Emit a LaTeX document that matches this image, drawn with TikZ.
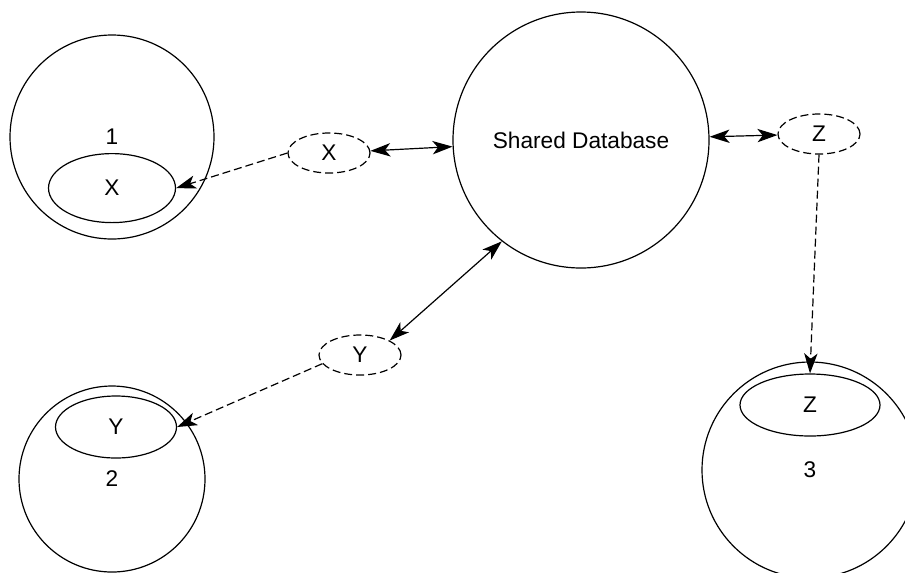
\documentclass[tikz,border=0pt]{standalone}
\usepackage{fontspec}
\setmainfont{Liberation Sans}
\usetikzlibrary{arrows.meta,positioning,shapes.geometric}

\begin{document}
\begin{tikzpicture}[
    x=0.75pt, y=-0.75pt,
    font=\fontsize{17}{20}\selectfont,
    line width=0.9pt,
    site/.style={draw, circle, inner sep=0pt, align=center},
    part/.style={draw, ellipse, inner sep=0pt},
    msg/.style={draw, ellipse, dash pattern=on 6pt off 3pt, inner sep=0pt, minimum width=61.5pt, minimum height=30pt},
    store/.style={draw, circle, inner sep=0pt, minimum size=192pt},
    tip/.style={Stealth[length=15pt, width=10pt, inset=4pt]},
    line/.style={{Stealth[length=15pt, width=10pt, inset=4pt]}-{Stealth[length=15pt, width=10pt, inset=4pt]}},
    flow/.style={-{Stealth[length=15pt, width=10pt, inset=4pt]}, dash pattern=on 6pt off 3pt}
]
    \useasboundingbox (0,0) rectangle (905,572);

    \node[store] (db) at (581,140) {Shared Database};

    \node[site, minimum size=153pt] (c1) at (112,137) {1};
    \node[site, minimum size=139.5pt] (c2) at (112,479) {2};
    \node[site, minimum size=162pt] (c3) at (810,470) {3};

    \node[part, minimum width=95.25pt, minimum height=51.75pt, below=12pt of c1.center] (xin) {X};
    \node[part, minimum width=90.75pt, minimum height=46.5pt, below=7.5pt of c2.north, xshift=3pt] (yin) {Y};
    \node[part, minimum width=105pt, minimum height=46.5pt, below=9pt of c3.north] (zin) {Z};

    \node[msg] (xd) at (329,153) {X};
    \node[msg] (yd) at (360,355) {Y};
    \node[msg] (zd) at (819,134) {Z};

    \draw[line] (xd) -- (db);
    \draw[line] (db) -- (zd);
    \draw[line] (yd.26) -- (db.232);

    \draw[flow] (xd.west) -- (xin.east);
    \draw[flow] (yd.193) -- (yin.east);
    \draw[flow] (zd.south) -- (zin.north);
\end{tikzpicture}
\end{document}
